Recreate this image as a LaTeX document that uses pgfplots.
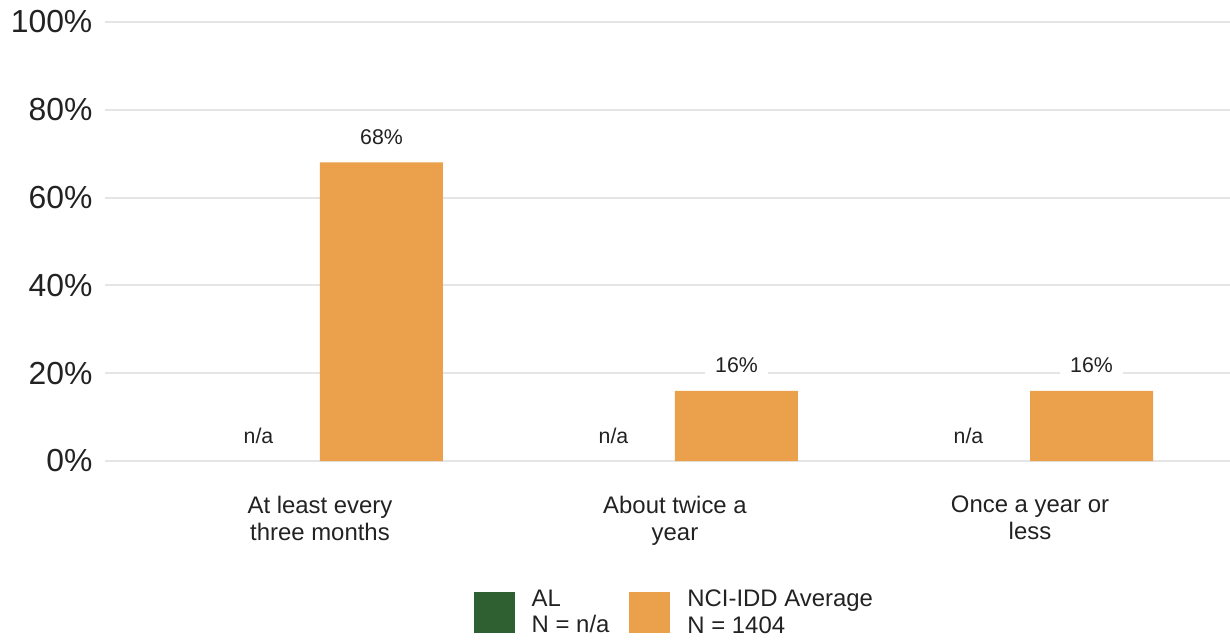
\documentclass[border=0pt]{standalone}
\usepackage{pgfplots}
\pgfplotsset{compat=1.18}
\usepackage{fontspec}
\setmainfont{Liberation Sans}
\definecolor{algreen}{RGB}{47,96,49}
\definecolor{ncorange}{RGB}{235,160,75}
\definecolor{gridgray}{RGB}{229,229,229}
\definecolor{txt}{RGB}{34,34,34}
\begin{document}
\begin{tikzpicture}
\begin{axis}[
  name=ax,
  scale only axis, width=562.5bp, height=219.5bp,
  xmin=-0.6056, xmax=2.5634, ymin=0, ymax=100,
  axis line style={draw=none},
  ytick={0,20,40,60,80,100},
  yticklabels={0\%,20\%,40\%,60\%,80\%,100\%},
  ymajorgrids, grid style={gridgray, line width=1bp},
  major tick length=0pt,
  xtick={0,1,2},
  xticklabels={At least every\\three months, About twice a\\year, Once a year or\\less},
  xticklabel style={align=center, font=\fontsize{12}{13.5}\selectfont, text=txt, yshift=-14bp},
  yticklabel style={font=\fontsize{16}{18}\selectfont, text=txt, xshift=-2.8bp},
  ybar, bar width=61.5bp,
  clip=false,
  legend columns=2,
  legend image code/.code={\fill[#1] (0bp,-10.25bp) rectangle (20.5bp,10.25bp);},
  legend style={draw=none, fill=none, at={(0.507,-0.2735)}, anchor=north,
    font=\fontsize{12}{13.5}\selectfont, text=txt, cells={align=left},
    /tikz/every odd column/.append style={column sep=6.5bp},
    /tikz/every even column/.append style={column sep=8bp}},
]
\addlegendimage{fill=algreen, draw=none}
\addlegendentry{AL\\N = n/a}
\addplot[forget plot, fill=none, draw=none, bar shift=-30.75bp, point meta=explicit symbolic,
  nodes near coords, nodes near coords style={anchor=base, yshift=9bp, font=\fontsize{10.7}{12}\selectfont, text=txt}]
  coordinates {(0,0) [n/a] (1,0) [n/a] (2,0) [n/a]};
\addplot[fill=ncorange, draw=none, bar shift=30.75bp, point meta=explicit symbolic,
  nodes near coords, nodes near coords style={anchor=base, yshift=9bp, fill=white, inner xsep=5bp, inner ysep=2bp, font=\fontsize{10.7}{12}\selectfont, text=txt}]
  coordinates {(0,68) [68\%] (1,16) [16\%] (2,16) [16\%]};
\addlegendentry{NCI-IDD Average\\N = 1404}
\end{axis}
\pgfresetboundingbox
\path ([shift={(-52.5bp,-90bp)}]ax.south west) rectangle ([shift={(0bp,11bp)}]ax.north east);
\end{tikzpicture}
\end{document}
